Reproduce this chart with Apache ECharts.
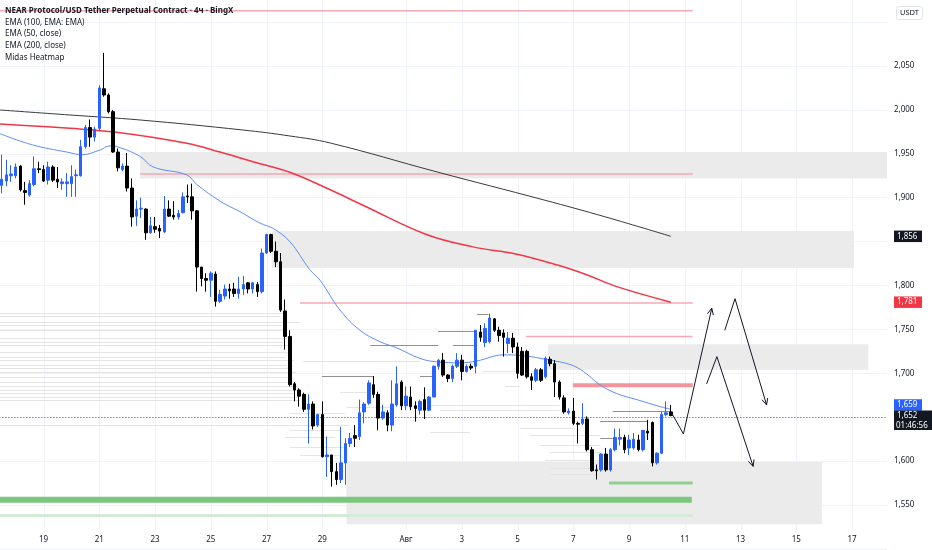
<!DOCTYPE html>
<html><head><meta charset="utf-8">
<script src="https://cdn.jsdelivr.net/npm/echarts@6/dist/echarts.min.js"></script>
<style>html,body{margin:0;padding:0;background:#fff}#c{width:932px;height:550px}</style>
</head><body><div id="c"></div><script>
// ---------- data ----------
const legendLines = ['NEAR Protocol/USD Tether Perpetual Contract · 4ч · BingX','EMA (100, EMA: EMA)','EMA (50, close)','EMA (200, close)','Midas Heatmap'];
const tickDates = ['07-19','07-21','07-23','07-25','07-27','07-29','08-01','08-03','08-05','08-07','08-09','08-11','08-13','08-15','08-17'];
const tickLabels = ['19','21','23','25','27','29','Авг','3','5','7','9','11','13','15','17'];
const hiddenPriceTicks = [1.5, 1.65, 1.85, 2.1, 2.15];
const timerText = '01:46:56';

// 4h candles [open, close, low, high]
const candles = [
[1.914,1.921,1.905,1.949],[1.919,1.926,1.913,1.943],[1.925,1.927,1.918,1.937],[1.925,1.935,1.922,1.939],[1.936,1.909,1.907,1.937],
[1.908,1.906,1.892,1.918],[1.903,1.916,1.901,1.920],[1.915,1.933,1.913,1.947],[1.933,1.932,1.928,1.941],[1.932,1.919,1.918,1.937],
[1.920,1.935,1.915,1.941],[1.935,1.920,1.918,1.937],[1.921,1.918,1.911,1.935],[1.916,1.918,1.909,1.922],[1.916,1.918,1.901,1.928],
[1.916,1.924,1.901,1.937],[1.925,1.926,1.901,1.932],[1.925,1.958,1.924,1.966],[1.958,1.980,1.956,1.983],[1.980,1.969,1.958,1.989],
[1.969,1.978,1.964,1.981],[1.979,2.025,1.977,2.028],[2.024,2.017,2.015,2.065],[2.017,1.998,1.996,2.019],[1.998,1.952,1.951,2.000],
[1.952,1.934,1.930,1.956],[1.932,1.936,1.930,1.939],[1.936,1.911,1.907,1.951],[1.911,1.878,1.867,1.922],[1.879,1.887,1.868,1.897],
[1.887,1.888,1.877,1.900],[1.887,1.860,1.852,1.888],[1.860,1.868,1.859,1.878],[1.867,1.864,1.860,1.878],[1.865,1.862,1.854,1.869],
[1.861,1.887,1.860,1.902],[1.887,1.879,1.878,1.897],[1.880,1.878,1.875,1.896],[1.878,1.882,1.875,1.886],[1.883,1.901,1.882,1.906],
[1.902,1.901,1.894,1.915],[1.901,1.885,1.875,1.916],[1.885,1.821,1.793,1.886],[1.821,1.808,1.799,1.821],[1.808,1.806,1.793,1.814],
[1.806,1.814,1.787,1.816],[1.813,1.782,1.776,1.816],[1.782,1.790,1.780,1.795],[1.788,1.796,1.784,1.801],[1.796,1.794,1.785,1.802],
[1.796,1.791,1.787,1.803],[1.791,1.796,1.785,1.810],[1.796,1.801,1.789,1.811],[1.803,1.796,1.791,1.804],[1.796,1.803,1.791,1.804],
[1.801,1.793,1.787,1.804],[1.793,1.837,1.791,1.842],[1.837,1.858,1.836,1.859],[1.858,1.839,1.837,1.859],[1.839,1.827,1.821,1.850],
[1.827,1.772,1.770,1.837],[1.771,1.742,1.727,1.784],[1.742,1.687,1.685,1.749],[1.688,1.681,1.668,1.690],[1.681,1.674,1.662,1.683],
[1.676,1.659,1.656,1.678],[1.659,1.665,1.620,1.676],[1.665,1.640,1.636,1.668],[1.641,1.653,1.639,1.654],[1.653,1.605,1.604,1.668],
[1.605,1.607,1.582,1.628],[1.607,1.588,1.571,1.607],[1.588,1.579,1.573,1.598],[1.579,1.598,1.575,1.639],[1.598,1.620,1.573,1.626],
[1.620,1.626,1.616,1.632],[1.629,1.626,1.616,1.641],[1.628,1.655,1.624,1.670],[1.656,1.665,1.643,1.667],[1.666,1.689,1.664,1.692],
[1.687,1.676,1.672,1.697],[1.676,1.649,1.635,1.679],[1.649,1.656,1.647,1.664],[1.655,1.641,1.634,1.658],[1.641,1.665,1.634,1.692],
[1.664,1.688,1.662,1.708],[1.690,1.663,1.658,1.692],[1.663,1.674,1.658,1.685],[1.673,1.662,1.658,1.685],[1.663,1.660,1.645,1.668],
[1.658,1.668,1.653,1.670],[1.670,1.658,1.648,1.684],[1.658,1.673,1.657,1.674],[1.673,1.708,1.673,1.709],[1.708,1.715,1.704,1.716],
[1.715,1.698,1.696,1.723],[1.698,1.694,1.690,1.699],[1.694,1.708,1.690,1.710],[1.708,1.715,1.706,1.723],[1.715,1.702,1.692,1.721],
[1.702,1.708,1.701,1.710],[1.708,1.706,1.704,1.711],[1.708,1.749,1.700,1.749],[1.747,1.741,1.736,1.755],[1.735,1.751,1.730,1.757],
[1.736,1.763,1.734,1.768],[1.762,1.749,1.747,1.763],[1.749,1.743,1.736,1.753],[1.746,1.741,1.719,1.750],[1.734,1.740,1.723,1.747],
[1.740,1.730,1.723,1.746],[1.730,1.700,1.694,1.735],[1.725,1.698,1.697,1.730],[1.725,1.696,1.694,1.727],[1.696,1.692,1.681,1.700],
[1.692,1.704,1.690,1.706],[1.704,1.692,1.690,1.706],[1.696,1.717,1.694,1.719],[1.716,1.711,1.708,1.719],[1.711,1.690,1.673,1.715],
[1.690,1.673,1.670,1.692],[1.672,1.656,1.654,1.675],[1.655,1.657,1.653,1.660],[1.657,1.643,1.641,1.672],[1.643,1.642,1.620,1.645],
[1.643,1.648,1.641,1.666],[1.648,1.613,1.611,1.651],[1.613,1.589,1.588,1.616],[1.590,1.589,1.579,1.596],[1.590,1.608,1.588,1.609],
[1.608,1.590,1.588,1.615],[1.590,1.613,1.588,1.615],[1.613,1.627,1.611,1.637],[1.625,1.627,1.618,1.637],[1.627,1.613,1.609,1.630],
[1.615,1.624,1.607,1.630],[1.615,1.625,1.613,1.632],[1.624,1.613,1.611,1.630],[1.613,1.635,1.611,1.635],[1.634,1.632,1.624,1.647],
[1.644,1.598,1.594,1.645],[1.598,1.609,1.596,1.610],[1.609,1.653,1.608,1.656],[1.653,1.655,1.651,1.668],[1.656,1.652,1.651,1.664]
];

// EMA samples: [candle index, price]
const ema200 = [[-0.4,1.9999],[14.7,1.9942],[29.8,1.9885],[51.9,1.9771],[62,1.9703],[70.7,1.9623],[93.7,1.9293],[116.7,1.8974],[130,1.878],[144,1.856]];
const ema100 = [[-0.4,1.984],[14.7,1.979],[25.5,1.974],[39.8,1.962],[47,1.952],[54.1,1.941],[62,1.929],[70.7,1.909],[78.3,1.890],[91.4,1.858],[101.4,1.844],[110.6,1.836],[119.8,1.823],[126,1.812],[132.2,1.799],[144,1.781]];
const ema50 = [[-0.4,1.973],[6.7,1.960],[14,1.952],[17.3,1.949],[21,1.954],[23.3,1.959],[25.5,1.957],[29.8,1.947],[32.6,1.935],[39.8,1.926],[42,1.915],[47,1.896],[51.3,1.884],[55.6,1.871],[58.4,1.865],[62,1.850],[66.3,1.818],[68.5,1.806],[72.8,1.772],[77.1,1.749],[81.4,1.736],[85,1.729],[90,1.717],[93.6,1.713],[98.6,1.712],[102.2,1.714],[108,1.721],[112.3,1.720],[118,1.715],[122.3,1.710],[125.2,1.702],[128.7,1.687],[132.3,1.677],[136.7,1.670],[141.7,1.662],[144,1.659]];

// Heatmap zones: [start index, end index, top price, bottom price]
const zoneBoxes = [[29.8,190.5,1.952,1.922],[58.1,183.4,1.862,1.820],[117.6,186.5,1.733,1.704],[74.2,176.5,1.599,1.528]];
// Level lines: [start index, end index, price]
const redThinLevels = [[-0.5,148.7,2.113],[29.8,148.7,1.927],[64.2,148.7,1.780],[112.8,148.7,1.742]];
const redThickLevels = [[122.9,148.7,1.6865]];
const greenThickLevels = [[-0.5,148.5,1.556]];
const greenShortLevels = [[130.7,148.7,1.575]];
const greenLightLevels = [[-0.5,148.7,1.538]];
const heatLight = [
[-0.5,61.0,1.769],[-0.5,59.9,1.765],[-0.5,64.2,1.758],[-0.5,60.3,1.755],[-0.5,61.2,1.749],[-0.5,62.0,1.740],[-0.5,60.7,1.736],
[-0.5,62.5,1.732],[-0.5,61.6,1.724],[-0.5,61.0,1.719],[-0.5,62.9,1.715],[-0.5,61.4,1.709],[-0.5,62.0,1.706],[-0.5,63.3,1.702],
[-0.5,61.8,1.696],[-0.5,62.5,1.690],[-0.5,63.8,1.686],[-0.5,64.2,1.681],[-0.5,62.9,1.678],[-0.5,63.8,1.673],[-0.5,64.2,1.670],
[-0.5,74.9,1.641],[62.0,73.9,1.655],[62.0,72.8,1.635],[61.0,71.7,1.627],[62.0,73.9,1.616],[64.2,72.8,1.607],
[92.2,120.1,1.664],[94.3,120.1,1.658],[92.2,100.8,1.633],[111.5,123.4,1.638],[113.7,128.8,1.630],[115.8,128.8,1.618],
[118.0,128.8,1.610],[116.9,128.8,1.601],[118.0,128.8,1.592],[118.0,128.8,1.585],
[64.8,90.0,1.714],[103.6,111.5,1.703],[108.3,111.5,1.686],[72.8,79.3,1.679],[74.3,84.2,1.662]
];
const heatDark = [[68.9,79.9,1.697],[79.3,93.9,1.732],[93.9,101.9,1.748],[97.1,102.3,1.732],[102.3,104.7,1.768],[90.0,92.8,1.697],[131.5,144.2,1.657],[128.8,138.9,1.646],[128.8,131.5,1.626]];
// Hand-drawn forecast paths: [candle index, price]
const arrowPaths = [
  [[144.2,1.6545],[146.7,1.631],[152.8,1.774]],
  [[155.6,1.749],[157.8,1.785],[164.6,1.664]],
  [[151.7,1.688],[153.9,1.719],[161.7,1.594]]
];

// ---------- layout / style ----------
const NCAT = 191;
const FONT = '"Noto Sans", sans-serif';
const PLOT_BOTTOM = 530;
const GRID_COLOR = '#f0f3fa';
const pad = n => String(n).padStart(2, '0');
const categories = [];
{
  const t0 = Date.UTC(2025, 6, 17, 12);
  for (let i = 0; i < NCAT; i++) {
    const d = new Date(t0 + i * 4 * 3600e3);
    categories.push(pad(d.getUTCMonth() + 1) + '-' + pad(d.getUTCDate()) + ' ' + pad(d.getUTCHours()) + ':00');
  }
}
const tickText = {};
tickDates.forEach((d, i) => { tickText[d + ' 00:00'] = tickLabels[i]; });
const tickIdx = tickDates.map(d => categories.indexOf(d + ' 00:00'));
const priceFmt = v => v.toFixed(3).replace('.', ',');
const hiddenSet = new Set(hiddenPriceTicks.map(v => Math.round(v * 1000)));

function segSeries(data, color, width, z, crisp) {
  return {
    type: 'custom', xAxisIndex: 1, yAxisIndex: 0, z, silent: true, animation: false,
    data, encode: { x: [0, 1], y: 2 },
    renderItem(params, api) {
      const a = api.coord([api.value(0), api.value(2)]);
      const b = api.coord([api.value(1), api.value(2)]);
      let y = a[1];
      if (crisp) y = Math.round(y) + 0.5;
      return { type: 'line', shape: { x1: a[0], y1: y, x2: b[0], y2: y }, style: { stroke: color, lineWidth: width } };
    }
  };
}

const chart = echarts.init(document.getElementById('c'), null, { renderer: 'canvas' });
const option = {
  animation: false,
  backgroundColor: '#ffffff',
  textStyle: { fontFamily: FONT },
  grid: { left: -0.62, right: 45.04, top: -21.8, bottom: 1.1, containLabel: false, outerBoundsMode: 'none' },
  xAxis: [
    {
      type: 'category', data: categories, boundaryGap: true, offset: -17,
      axisLine: { show: false }, axisTick: { show: false }, splitLine: { show: false },
      axisLabel: { interval: (i, v) => tickText[v] !== undefined, formatter: v => tickText[v] || '', fontSize: 8, color: '#131722', margin: 4, fontFamily: FONT }
    },
    { type: 'value', min: -0.5, max: NCAT - 0.5, show: false, splitLine: { show: false } }
  ],
  yAxis: {
    type: 'value', position: 'right', min: 1.5, max: 2.15, interval: 0.05,
    axisLine: { show: false }, axisTick: { show: false },
    splitLine: { lineStyle: { color: GRID_COLOR, width: 1 } },
    axisLabel: { margin: 7, fontSize: 8, color: '#131722', fontFamily: FONT,
      formatter: v => hiddenSet.has(Math.round(v * 1000)) ? '' : priceFmt(v) }
  },
  series: [
    {
      type: 'custom', xAxisIndex: 1, z: 0, silent: true, data: tickIdx.map(k => [k, 2]),
      renderItem(params, api) {
        const x = Math.round(api.coord([api.value(0), 2])[0]) + 0.5;
        return { type: 'line', shape: { x1: x, y1: 0, x2: x, y2: PLOT_BOTTOM }, style: { stroke: GRID_COLOR, lineWidth: 1 } };
      }
    },
    {
      type: 'custom', xAxisIndex: 1, z: 1, silent: true, data: zoneBoxes, encode: { x: [0, 1], y: [2, 3] },
      renderItem(params, api) {
        const a = api.coord([api.value(0), api.value(2)]);
        const b = api.coord([api.value(1), api.value(3)]);
        return { type: 'rect', shape: { x: a[0], y: a[1], width: b[0] - a[0], height: b[1] - a[1] }, style: { fill: '#ebebeb' } };
      }
    },
    segSeries(heatLight, '#e4e4e4', 1, 2, true),
    segSeries(heatDark, '#8f8f8f', 1, 2, true),
    segSeries(redThinLevels, '#f5a9b4', 1.5, 2, false),
    segSeries(redThickLevels, '#f2959c', 4, 2, false),
    segSeries(greenThickLevels, '#7cc77f', 6, 2, false),
    segSeries(greenShortLevels, '#8fcf92', 3, 2, false),
    segSeries(greenLightLevels, '#d3ebd4', 3, 2, false),
    { type: 'line', xAxisIndex: 1, data: ema200, smooth: 0.4, showSymbol: false, symbol: 'none', silent: true, z: 3, lineStyle: { color: '#3a3a3a', width: 1 } },
    { type: 'line', xAxisIndex: 1, data: ema100, smooth: 0.4, showSymbol: false, symbol: 'none', silent: true, z: 3, lineStyle: { color: '#f23645', width: 1.5 } },
    { type: 'line', xAxisIndex: 1, data: ema50, smooth: 0.4, showSymbol: false, symbol: 'none', silent: true, z: 3, lineStyle: { color: '#5b8ff5', width: 1 } },
    {
      type: 'candlestick', xAxisIndex: 0, data: candles, barWidth: 3, z: 5, silent: true,
      itemStyle: { color: '#2962ff', color0: '#000000', borderColor: '#2962ff', borderColor0: '#000000', borderWidth: 1 },
      markLine: { silent: true, symbol: ['none', 'none'], animation: false, label: { show: false },
        lineStyle: { type: [1, 2], color: '#555b66', width: 1 }, data: [{ yAxis: candles[candles.length - 1][1] }] }
    },
    {
      type: 'custom', xAxisIndex: 1, z: 6, silent: true, data: arrowPaths.map(p => p[0]),
      renderItem(params, api) {
        const path = arrowPaths[params.dataIndex].map(pt => api.coord(pt));
        const n = path.length, tip = path[n - 1], prev = path[n - 2];
        const dx = tip[0] - prev[0], dy = tip[1] - prev[1], len = Math.hypot(dx, dy);
        const ux = dx / len, uy = dy / len, hl = 7, ang = Math.PI / 7;
        const rot = a => [tip[0] - hl * (ux * Math.cos(a) - uy * Math.sin(a)), tip[1] - hl * (uy * Math.cos(a) + ux * Math.sin(a))];
        return { type: 'group', children: [
          { type: 'polyline', shape: { points: path }, style: { stroke: '#131722', lineWidth: 1, fill: null } },
          { type: 'polyline', shape: { points: [rot(ang), tip, rot(-ang)] }, style: { stroke: '#131722', lineWidth: 1, fill: null } }
        ] };
      }
    }
  ]
};
chart.setOption(option);

// ---------- texts & price tags ----------
const graphics = [];
legendLines.forEach((t, i) => {
  graphics.push({ type: 'text', x: 5, y: 11 + i * 11.6, z: 200,
    style: { text: t, fill: '#131722', fontSize: 8, fontFamily: FONT, fontWeight: i === 0 ? 'bold' : 'normal', verticalAlign: 'middle', align: 'left' } });
});
graphics.push({ type: 'rect', shape: { x: 896.5, y: 6.5, width: 26, height: 13, r: 2 }, style: { fill: '#fff', stroke: '#e0e3eb', lineWidth: 1 }, z: 200 });
graphics.push({ type: 'text', x: 909.5, y: 13, z: 201, style: { text: 'USDT', fill: '#131722', fontSize: 7.5, fontFamily: FONT, align: 'center', verticalAlign: 'middle' } });

const lastClose = candles[candles.length - 1][1];
const tags = [
  { v: ema200[ema200.length - 1][1], bg: '#131722', dy: 0 },
  { v: ema100[ema100.length - 1][1], bg: '#f23645', dy: 0 },
  { v: ema50[ema50.length - 1][1], bg: '#2962ff', dy: -4.3 }
];
const TX = 894;
tags.forEach(t => {
  const y = chart.convertToPixel({ yAxisIndex: 0 }, t.v) + t.dy;
  graphics.push({ type: 'rect', shape: { x: TX, y: y - 5.75, width: 28, height: 11.5 }, style: { fill: t.bg }, z: 210 });
  graphics.push({ type: 'text', x: TX + 3, y: y, z: 211, style: { text: priceFmt(t.v), fill: '#fff', fontSize: 8, fontFamily: FONT, verticalAlign: 'middle', align: 'left' } });
});
{
  const y = chart.convertToPixel({ yAxisIndex: 0 }, lastClose);
  graphics.push({ type: 'rect', shape: { x: TX, y: y - 5, width: 38, height: 19.5 }, style: { fill: '#131722' }, z: 210 });
  graphics.push({ type: 'text', x: TX + 3, y: y + 0.5, z: 211, style: { text: priceFmt(lastClose), fill: '#fff', fontSize: 8, fontFamily: FONT, verticalAlign: 'middle', align: 'left' } });
  graphics.push({ type: 'text', x: TX + 2, y: y + 10, z: 211, style: { text: timerText, fill: '#fff', fontSize: 8, fontFamily: FONT, verticalAlign: 'middle', align: 'left' } });
}
chart.setOption({ graphic: graphics });
</script></body></html>
